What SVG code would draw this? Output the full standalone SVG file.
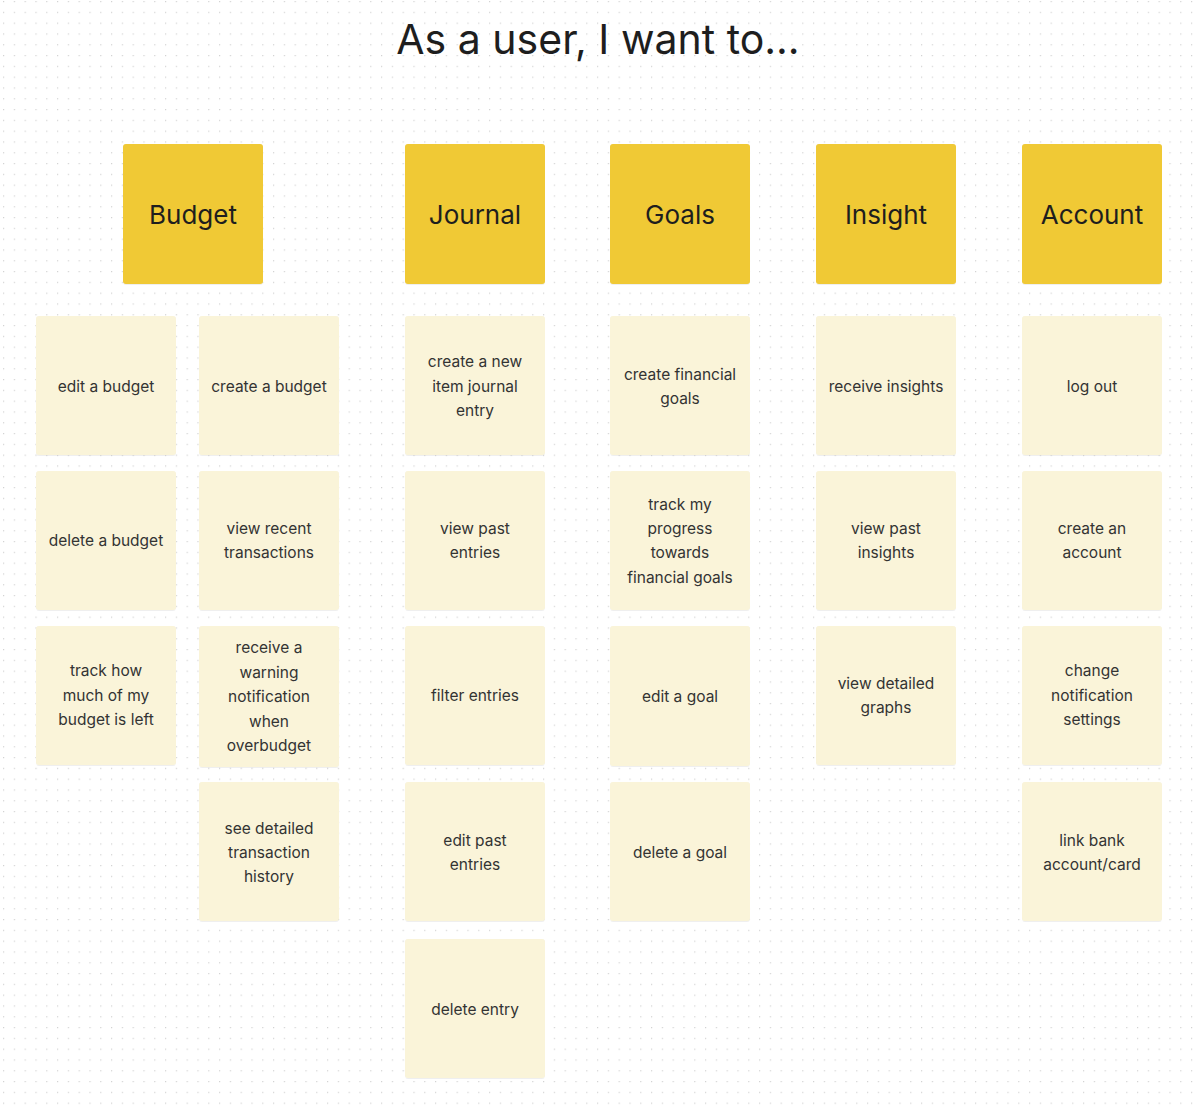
<svg xmlns="http://www.w3.org/2000/svg" width="1200" height="1110" viewBox="0 0 1200 1110">
<defs>
<pattern id="dots" x="3" y="1" width="10.8" height="10.8" patternUnits="userSpaceOnUse">
<rect x="0" y="0" width="1.2" height="1.2" fill="#d2d2d2"/>
</pattern>
<filter id="sh" x="-10%" y="-10%" width="120%" height="120%">
<feDropShadow dx="0" dy="0.5" stdDeviation="0.6" flood-color="#000" flood-opacity="0.12"/>
</filter>
</defs>
<style>
.hd{fill:#F0C935;filter:url(#sh)}
.cd{fill:#FAF4D9;filter:url(#sh)}
.ht{font-family:Inter,"Liberation Sans",sans-serif;font-size:26px;fill:#1e1e1e;text-anchor:middle}
.ct{font-family:Inter,"Liberation Sans",sans-serif;font-size:15.5px;fill:#333;text-anchor:middle}
.tt{font-family:Inter,"Liberation Sans",sans-serif;font-size:41px;fill:#1e1e1e;text-anchor:middle}
</style>
<rect width="1200" height="1110" fill="#fff"/>
<rect width="1200" height="1110" fill="url(#dots)"/>
<text class="tt" x="598" y="54">As a user, I want to...</text>
<g id="connectors"/>
<g id="h-budget"><rect class="hd" x="123" y="144" width="140" height="140" rx="3"/><text class="ht" x="193" y="224">Budget</text></g>
<g id="h-journal"><rect class="hd" x="405" y="144" width="140" height="140" rx="3"/><text class="ht" x="475" y="224">Journal</text></g>
<g id="h-goals"><rect class="hd" x="610" y="144" width="140" height="140" rx="3"/><text class="ht" x="680" y="224">Goals</text></g>
<g id="h-insight"><rect class="hd" x="816" y="144" width="140" height="140" rx="3"/><text class="ht" x="886" y="224">Insight</text></g>
<g id="h-account"><rect class="hd" x="1022" y="144" width="140" height="140" rx="3"/><text class="ht" x="1092" y="224">Account</text></g>

<g id="b1"><rect class="cd" x="36" y="316" width="140" height="139" rx="3"/><text class="ct" x="106" y="391.5">edit a budget</text></g>
<g id="b2"><rect class="cd" x="36" y="471" width="140" height="139" rx="3"/><text class="ct" x="106" y="546">delete a budget</text></g>
<g id="b3"><rect class="cd" x="36" y="626" width="140" height="139" rx="3"/><text class="ct" x="106" y="676">track how</text><text class="ct" x="106" y="700.5">much of my</text><text class="ct" x="106" y="725">budget is left</text></g>

<g id="b4"><rect class="cd" x="199" y="316" width="140" height="139" rx="3"/><text class="ct" x="269" y="391.5">create a budget</text></g>
<g id="b5"><rect class="cd" x="199" y="471" width="140" height="139" rx="3"/><text class="ct" x="269" y="534">view recent</text><text class="ct" x="269" y="558">transactions</text></g>
<g id="b6"><rect class="cd" x="199" y="626" width="140" height="141" rx="3"/><text class="ct" x="269" y="653">receive a</text><text class="ct" x="269" y="677.5">warning</text><text class="ct" x="269" y="702">notification</text><text class="ct" x="269" y="726.5">when</text><text class="ct" x="269" y="751">overbudget</text></g>
<g id="b7"><rect class="cd" x="199" y="782" width="140" height="139" rx="3"/><text class="ct" x="269" y="833.5">see detailed</text><text class="ct" x="269" y="858">transaction</text><text class="ct" x="269" y="882">history</text></g>

<g id="j1"><rect class="cd" x="405" y="316" width="140" height="139" rx="3"/><text class="ct" x="475" y="367">create a new</text><text class="ct" x="475" y="391.5">item journal</text><text class="ct" x="475" y="416">entry</text></g>
<g id="j2"><rect class="cd" x="405" y="471" width="140" height="139" rx="3"/><text class="ct" x="475" y="534">view past</text><text class="ct" x="475" y="558">entries</text></g>
<g id="j3"><rect class="cd" x="405" y="626" width="140" height="139" rx="3"/><text class="ct" x="475" y="701">filter entries</text></g>
<g id="j4"><rect class="cd" x="405" y="782" width="140" height="139" rx="3"/><text class="ct" x="475" y="846">edit past</text><text class="ct" x="475" y="870">entries</text></g>
<g id="j5"><rect class="cd" x="405" y="939" width="140" height="139" rx="3"/><text class="ct" x="475" y="1015">delete entry</text></g>

<g id="g1"><rect class="cd" x="610" y="316" width="140" height="139" rx="3"/><text class="ct" x="680" y="379.5">create financial</text><text class="ct" x="680" y="404">goals</text></g>
<g id="g2"><rect class="cd" x="610" y="471" width="140" height="139" rx="3"/><text class="ct" x="680" y="509.5">track my</text><text class="ct" x="680" y="534">progress</text><text class="ct" x="680" y="558">towards</text><text class="ct" x="680" y="582.5">financial goals</text></g>
<g id="g3"><rect class="cd" x="610" y="626" width="140" height="140" rx="3"/><text class="ct" x="680" y="702">edit a goal</text></g>
<g id="g4"><rect class="cd" x="610" y="782" width="140" height="139" rx="3"/><text class="ct" x="680" y="858">delete a goal</text></g>

<g id="i1"><rect class="cd" x="816" y="316" width="140" height="139" rx="3"/><text class="ct" x="886" y="391.5">receive insights</text></g>
<g id="i2"><rect class="cd" x="816" y="471" width="140" height="139" rx="3"/><text class="ct" x="886" y="534">view past</text><text class="ct" x="886" y="558">insights</text></g>
<g id="i3"><rect class="cd" x="816" y="626" width="140" height="139" rx="3"/><text class="ct" x="886" y="688.5">view detailed</text><text class="ct" x="886" y="713">graphs</text></g>

<g id="a1"><rect class="cd" x="1022" y="316" width="140" height="139" rx="3"/><text class="ct" x="1092" y="391.5">log out</text></g>
<g id="a2"><rect class="cd" x="1022" y="471" width="140" height="139" rx="3"/><text class="ct" x="1092" y="534">create an</text><text class="ct" x="1092" y="558">account</text></g>
<g id="a3"><rect class="cd" x="1022" y="626" width="140" height="139" rx="3"/><text class="ct" x="1092" y="676">change</text><text class="ct" x="1092" y="700.5">notification</text><text class="ct" x="1092" y="725">settings</text></g>
<g id="a4"><rect class="cd" x="1022" y="782" width="140" height="139" rx="3"/><text class="ct" x="1092" y="846">link bank</text><text class="ct" x="1092" y="870">account/card</text></g>
</svg>
